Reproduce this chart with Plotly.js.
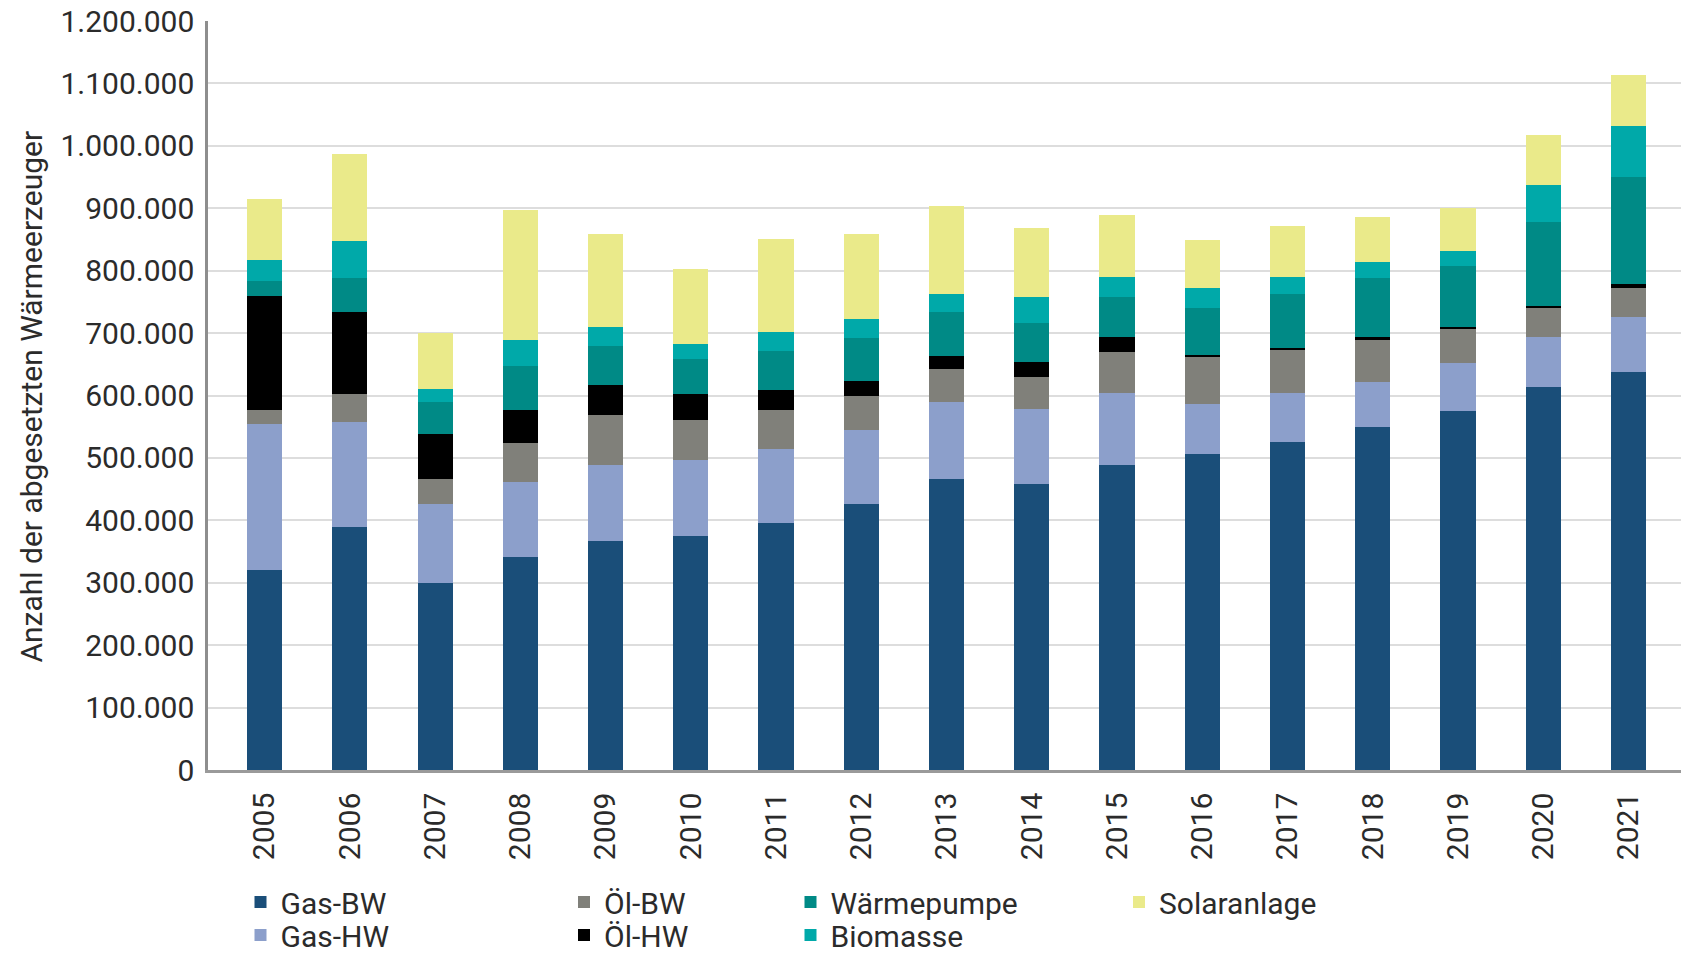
<!DOCTYPE html>
<html>
<head>
<meta charset="utf-8">
<script src="https://cdn.plot.ly/plotly-3.0.1.min.js"></script>
<style>
  html, body { margin: 0; padding: 0; background: #ffffff; }
  #chart { width: 1693px; height: 954px; }
</style>
</head>
<body>
<div id="chart"></div>
<script>
// ---- data ----
const years = ["2005","2006","2007","2008","2009","2010","2011","2012","2013","2014","2015","2016","2017","2018","2019","2020","2021"];
const gasBW  = [321000, 390000, 300000, 342000, 367000, 375000, 396000, 425500, 467000, 459000, 488000, 507000, 525000, 549000, 575000, 614000, 637500];
const gasHW  = [233000, 167000, 125500, 119500, 121500, 122000, 119000, 119500, 122000, 119000, 116500,  80000,  79500,  73000,  77500,  80500,  87500];
const oelBW  = [ 23500,  45000,  41500,  63000,  81000,  63000,  61000,  54000,  53500,  51000,  66000,  74500,  68500,  67000,  54500,  45000,  47500];
const oelHW  = [182500, 132000,  72000,  53000,  48000,  42000,  32500,  24000,  21500,  24000,  23500,   3500,   3500,   5500,   2500,   3500,   6500];
const waermepumpe = [23500, 54000, 50500, 69500, 62500, 57000, 62500, 68500, 69000, 62500, 63500, 74500, 86500, 93000, 98500, 134500, 170500];
const biomasse = [33500, 59000, 21500, 41500, 30000, 24000, 30000, 30500, 30000, 42000, 32500, 33000, 27500, 27000, 24000, 59000, 83000];
const solar  = [ 98500, 140500,  89000, 209500, 149000, 119000, 149000, 136500, 140500, 110500,  98500,  77000,  80500,  71000,  68500,  80500,  81000];

const seriesNames = ["Gas-BW", "Gas-HW", "Öl-BW", "Öl-HW", "Wärmepumpe", "Biomasse", "Solaranlage"];
const seriesValues = [gasBW, gasHW, oelBW, oelHW, waermepumpe, biomasse, solar];

const yTickVals = [0, 100000, 200000, 300000, 400000, 500000, 600000, 700000, 800000, 900000, 1000000, 1100000, 1200000];
const yTickText = ["0", "100.000", "200.000", "300.000", "400.000", "500.000", "600.000", "700.000", "800.000", "900.000", "1.000.000", "1.100.000", "1.200.000"];
const yTitle = "Anzahl der abgesetzten Wärmeerzeuger";

// ---- styles ----
const colors = ["#1a4e79", "#8c9fcb", "#80807a", "#000000", "#008a86", "#00a9a9", "#eaea8a"];
const legendIds = ["legend", "legend2", "legend3", "legend4", "legend5", "legend6", "legend7"];
const FONT = "Roboto, 'Open Sans', sans-serif";
const TXT = "#2b2b2b";
const FS = 30;

const W = 1693, H = 954;
const M = {l: 208, r: 12.4, t: 20.7, b: 184, autoexpand: false};
const plotW = W - M.l - M.r, plotH = H - M.t - M.b;

// legend placement (container px): [symbol centre x, row centre y]
const legendPos = [
  [260.5, 902], [260.5, 935],
  [584, 902], [584, 935],
  [810.5, 902], [810.5, 935],
  [1139, 902]
];

const traces = seriesNames.map((name, i) => ({
  type: "bar",
  name: name,
  x: years,
  y: seriesValues[i],
  marker: {color: colors[i], line: {width: 0}},
  legend: legendIds[i],
  hoverinfo: "x+y+name"
}));

const layout = {
  width: W, height: H,
  margin: M,
  paper_bgcolor: "#ffffff",
  plot_bgcolor: "#ffffff",
  barmode: "stack",
  bargap: 0.587,
  font: {family: FONT, size: FS, color: TXT},
  xaxis: {
    type: "category",
    range: [-0.664, 16.615],
    tickangle: -90,
    showgrid: false,
    showline: true,
    linecolor: "#9a9a9a",
    linewidth: 2.5,
    ticks: "outside",
    ticklen: 8,
    tickcolor: "rgba(0,0,0,0)",
    tickfont: {family: FONT, size: FS, color: TXT},
    fixedrange: true
  },
  yaxis: {
    range: [0, 1200000],
    tickvals: yTickVals,
    ticktext: yTickText,
    showgrid: true,
    gridcolor: "#dddddd",
    gridwidth: 2,
    zeroline: false,
    showline: true,
    linecolor: "#8e8e8e",
    linewidth: 2.5,
    ticks: "outside",
    ticklen: 5,
    tickcolor: "rgba(0,0,0,0)",
    tickfont: {family: FONT, size: FS, color: TXT},
    fixedrange: true
  },
  annotations: [{
    text: yTitle,
    xref: "paper", yref: "paper",
    x: (31.5 - M.l) / plotW,
    y: (H - M.b - 396) / plotH,
    xanchor: "center", yanchor: "middle",
    textangle: -90,
    showarrow: false,
    font: {family: FONT, size: FS, color: TXT}
  }],
  showlegend: true
};

legendIds.forEach((id, i) => {
  layout[id] = {
    xref: "container",
    yref: "container",
    x: (legendPos[i][0] - 20) / W,
    xanchor: "left",
    y: (H - legendPos[i][1]) / H,
    yanchor: "middle",
    orientation: "v",
    traceorder: "normal",
    bgcolor: "rgba(0,0,0,0)",
    borderwidth: 0,
    font: {family: FONT, size: FS, color: TXT}
  };
});

Plotly.newPlot("chart", traces, layout, {displayModeBar: false, responsive: false});
</script>
</body>
</html>
